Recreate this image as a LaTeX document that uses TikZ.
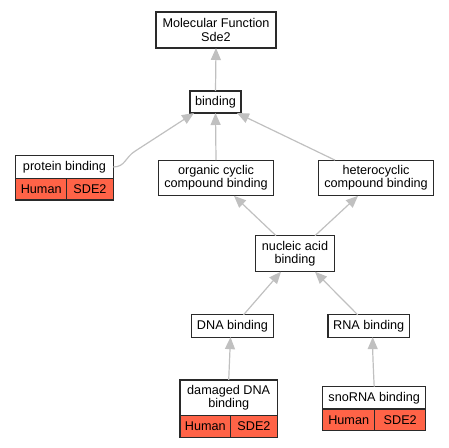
\documentclass[tikz,border=0pt]{standalone}
\usepackage{fontspec}
\setmainfont{Liberation Sans}
\usetikzlibrary{arrows.meta,calc}
\definecolor{edgegray}{HTML}{C0C0C0}
\definecolor{tomatored}{HTML}{FF6347}
\definecolor{boxline}{HTML}{2A2A2A}
\begin{document}
\begin{tikzpicture}[x=1bp,y=-1bp,
  every node/.style={font=\fontsize{12.7}{13.4}\selectfont, inner sep=0pt, outer sep=0pt},
  box/.style={draw=boxline, line width=1.2bp, fill=white, align=center},
  cell/.style={draw=boxline, line width=1.2bp, fill=tomatored, align=center},
  edge/.style={draw=edgegray, line width=1.2bp, -{Triangle[length=12bp,width=10bp]}}]
\useasboundingbox (0,0) rectangle (449,448);
% nodes
\node[box, minimum width=120bp, minimum height=36bp] (mf) at (216,30) {Molecular Function\\Sde2};
\node[box, minimum width=51bp, minimum height=22bp] (binding) at (215.5,102) {binding};
\node[box, minimum width=97.6bp, minimum height=22.6bp] (pb) at (64.5,167) {protein binding};
\node[cell, minimum width=51bp, minimum height=21.7bp] (pbh) at (41.2,189.2) {Human};
\node[cell, minimum width=46.6bp, minimum height=21.7bp] (pbs) at (90,189.2) {SDE2};
\node[box, minimum width=114.6bp, minimum height=35.7bp] (organic) at (216,178) {organic cyclic\\compound binding};
\node[box, minimum width=114.6bp, minimum height=35.7bp] (hetero) at (376,178) {heterocyclic\\compound binding};
\node[box, minimum width=78.6bp, minimum height=36bp] (nucleic) at (295,253.7) {nucleic acid\\binding};
\node[box, minimum width=81.6bp, minimum height=22.3bp] (dna) at (232.5,326) {DNA binding};
\node[box, minimum width=81.3bp, minimum height=22.3bp] (rna) at (368.7,326) {RNA binding};
\node[box, minimum width=97.3bp, minimum height=35.7bp] (ddna) at (228.7,397.8) {damaged DNA\\binding};
\node[cell, minimum width=50.7bp, minimum height=21.6bp] (ddnah) at (205.3,426.5) {Human};
\node[cell, minimum width=46.6bp, minimum height=21.6bp] (ddnas) at (254,426.5) {SDE2};
\node[box, minimum width=103bp, minimum height=22.3bp] (sno) at (374.2,397.8) {snoRNA binding};
\node[cell, minimum width=52bp, minimum height=21.7bp] (snoh) at (348.7,420) {Human};
\node[cell, minimum width=51bp, minimum height=21.7bp] (snos) at (400.2,420) {SDE2};
% edges
\draw[edge] (binding.north) -- (mf.south);
\draw[edge] (pb.east) .. controls ($(pb.east)+(12,0)$) and ($(pb.east)+(12,-10)$) .. ($(pb.east)+(22,-16)$) -- ($(binding.south west)+(4,0)$);
\draw[edge] (organic.north) -- (binding.south);
\draw[edge] ($(hetero.north)+(-41,0)$) -- ($(binding.south east)+(-4,0)$);
\draw[edge] ($(nucleic.north)+(-19,0)$) -- ($(organic.south)+(18,0)$);
\draw[edge] ($(nucleic.north)+(20,0)$) -- ($(hetero.south)+(-18,0)$);
\draw[edge] ($(dna.north)+(11,0)$) -- ($(nucleic.south)+(-14,0)$);
\draw[edge] ($(rna.north)+(-11,0)$) -- ($(nucleic.south)+(20,0)$);
\draw[edge] (ddna.north) -- ($(dna.south)+(-2,0)$);
\draw[edge] (sno.north) .. controls ($(sno.north)+(-1,-20)$) and ($(rna.south)+(4,15)$) .. ($(rna.south)+(4,0)$);
\end{tikzpicture}
\end{document}
